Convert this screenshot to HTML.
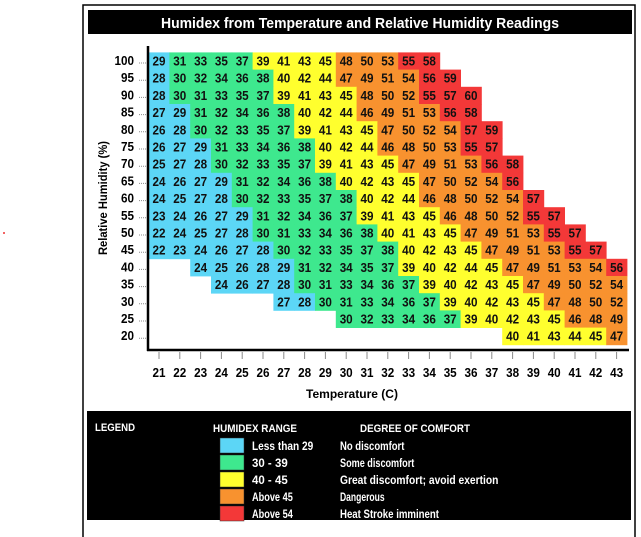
<!DOCTYPE html>
<html><head><meta charset="utf-8"><style>
body{margin:0;background:#fff;width:641px;height:537px;overflow:hidden}
svg{display:block;font-family:"Liberation Sans Narrow","Liberation Sans",sans-serif}
</style></head><body>
<svg id="c" width="641" height="537">
<circle cx="4" cy="233" r="1" fill="#e33"/>
<rect x="83" y="5" width="552" height="540" fill="none" stroke="#000" stroke-width="1.5"/>
<rect x="88" y="10" width="544" height="24" fill="#000"/>
<text x="360" y="28" fill="#fff" font-size="15" font-weight="bold" text-anchor="middle" textLength="398" lengthAdjust="spacingAndGlyphs">Humidex from Temperature and Relative Humidity Readings</text>
<g id="cells"></g>
<g id="axes"></g>
<text x="352" y="398" font-size="12" font-weight="bold" text-anchor="middle" textLength="92" lengthAdjust="spacingAndGlyphs">Temperature (C)</text>
<text transform="translate(107,198) rotate(-90)" font-size="12" font-weight="bold" text-anchor="middle" textLength="114" lengthAdjust="spacingAndGlyphs">Relative Humidity (%)</text>
<g>
<rect x="87" y="411" width="544" height="109" fill="#000"/>
<text x="95" y="431" fill="#fff" font-size="11" font-weight="bold" textLength="40" lengthAdjust="spacingAndGlyphs">LEGEND</text>
<text x="213" y="432" fill="#fff" font-size="11" font-weight="bold" textLength="84" lengthAdjust="spacingAndGlyphs">HUMIDEX RANGE</text>
<text x="360" y="432" fill="#fff" font-size="11" font-weight="bold" textLength="110" lengthAdjust="spacingAndGlyphs">DEGREE OF COMFORT</text>
<g id="legitems"></g>
</g>
</svg>
<script>
const temps=[21,22,23,24,25,26,27,28,29,30,31,32,33,34,35,36,37,38,39,40,41,42,43];
const rhLevels=[100,95,90,85,80,75,70,65,60,55,50,45,40,35,30,25,20];
const rowStart=[21,21,21,21,21,21,21,21,21,21,21,21,23,24,27,30,38];
const rowValues=[
[29,31,33,35,37,39,41,43,45,48,50,53,55,58],
[28,30,32,34,36,38,40,42,44,47,49,51,54,56,59],
[28,30,31,33,35,37,39,41,43,45,48,50,52,55,57,60],
[27,29,31,32,34,36,38,40,42,44,46,49,51,53,56,58],
[26,28,30,32,33,35,37,39,41,43,45,47,50,52,54,57,59],
[26,27,29,31,33,34,36,38,40,42,44,46,48,50,53,55,57],
[25,27,28,30,32,33,35,37,39,41,43,45,47,49,51,53,56,58],
[24,26,27,29,31,32,34,36,38,40,42,43,45,47,50,52,54,56],
[24,25,27,28,30,32,33,35,37,38,40,42,44,46,48,50,52,54,57],
[23,24,26,27,29,31,32,34,36,37,39,41,43,45,46,48,50,52,55,57],
[22,24,25,27,28,30,31,33,34,36,38,40,41,43,45,47,49,51,53,55,57],
[22,23,24,26,27,28,30,32,33,35,37,38,40,42,43,45,47,49,51,53,55,57],
[24,25,26,28,29,31,32,34,35,37,39,40,42,44,45,47,49,51,53,54,56],
[24,26,27,28,30,31,33,34,36,37,39,40,42,43,45,47,49,50,52,54],
[27,28,30,31,33,34,36,37,39,40,42,43,45,47,48,50,52],
[30,32,33,34,36,37,39,40,42,43,45,46,48,49],
[40,41,43,44,45,47]
];
const legendRanges=["Less than 29","30 - 39","40 - 45","Above 45","Above 54"];
const legendComfort=["No discomfort","Some discomfort","Great discomfort; avoid exertion","Dangerous","Heat Stroke imminent"];
const legendColors=["#5cd6f6","#3ee88e","#ffff2e","#f8922f","#f33838"];

const NS="http://www.w3.org/2000/svg";
const CW=20.8, CH=17.2;
function xs(t){return 159+(t-21)*CW;}
function ys(h){return 61+(100-h)/5*CH;}
function colorFor(v){return v<=29?legendColors[0]:v<=38?legendColors[1]:v<=45?legendColors[2]:v<=54?legendColors[3]:legendColors[4];}
function mk(tag,attrs,parent){const e=document.createElementNS(NS,tag);for(const k in attrs)e.setAttribute(k,attrs[k]);parent.appendChild(e);return e;}
const cells=document.getElementById('cells');
rowValues.forEach((row,ri)=>{
  const h=rhLevels[ri];
  row.forEach((v,ci)=>{
    const t=rowStart[ri]+ci;
    const r=mk('rect',{x:(xs(t)-CW/2).toFixed(1),y:(ys(h)-CH/2).toFixed(1),width:CW+0.4,height:CH+0.4,fill:colorFor(v)},cells);
    
    
    const tx=mk('text',{x:xs(t).toFixed(1),y:(ys(h)+4.5).toFixed(1),'font-size':12.5,'font-weight':'bold','text-anchor':'middle',fill:'#111',textLength:13,lengthAdjust:'spacingAndGlyphs'},cells);
    tx.textContent=v;
    
    
  });
});
const ax=document.getElementById('axes');
const yl=mk('line',{x1:148,y1:46,x2:148,y2:351,stroke:'#000','stroke-width':2.5},ax);


const xl=mk('line',{x1:147,y1:350,x2:629,y2:350,stroke:'#000','stroke-width':2.5},ax);


rhLevels.forEach(h=>{
  const tk=mk('line',{x1:139,y1:ys(h)+2,x2:146,y2:ys(h)+2,stroke:'#888','stroke-width':1,'stroke-dasharray':'1,1'},ax);
  
  
  const lb=mk('text',{x:134,y:ys(h)+4,'font-size':12.5,'font-weight':'bold','text-anchor':'end',textLength:String(h).length*6.5,lengthAdjust:'spacingAndGlyphs'},ax);
  lb.textContent=h;
  
  
});
temps.forEach(t=>{
  const tk=mk('line',{x1:xs(t),y1:352,x2:xs(t),y2:359,stroke:'#888','stroke-width':1},ax);
  
  
  const lb=mk('text',{x:xs(t),y:377,'font-size':12.5,'font-weight':'bold','text-anchor':'middle',textLength:13,lengthAdjust:'spacingAndGlyphs'},ax);
  lb.textContent=t;
  
  
});
const li=document.getElementById('legitems');
legendRanges.forEach((r,i)=>{
  const y=438+i*17;
  const sw=mk('rect',{x:220,y:y,width:24,height:15,fill:legendColors[i],stroke:'#333','stroke-width':0.5},li);
  
  
  const a=mk('text',{x:252,y:y+12,'font-size':11.5,'font-weight':'bold',fill:'#fff',textLength:(r.length*5.1).toFixed(1),lengthAdjust:'spacingAndGlyphs'},li);
  a.textContent=r;
  
  
  const c=legendComfort[i];
  const b=mk('text',{x:340,y:y+12,'font-size':11.5,'font-weight':'bold',fill:'#fff',textLength:(c.length*4.95).toFixed(1),lengthAdjust:'spacingAndGlyphs'},li);
  b.textContent=c;
  
  
});
</script>
</body></html>
